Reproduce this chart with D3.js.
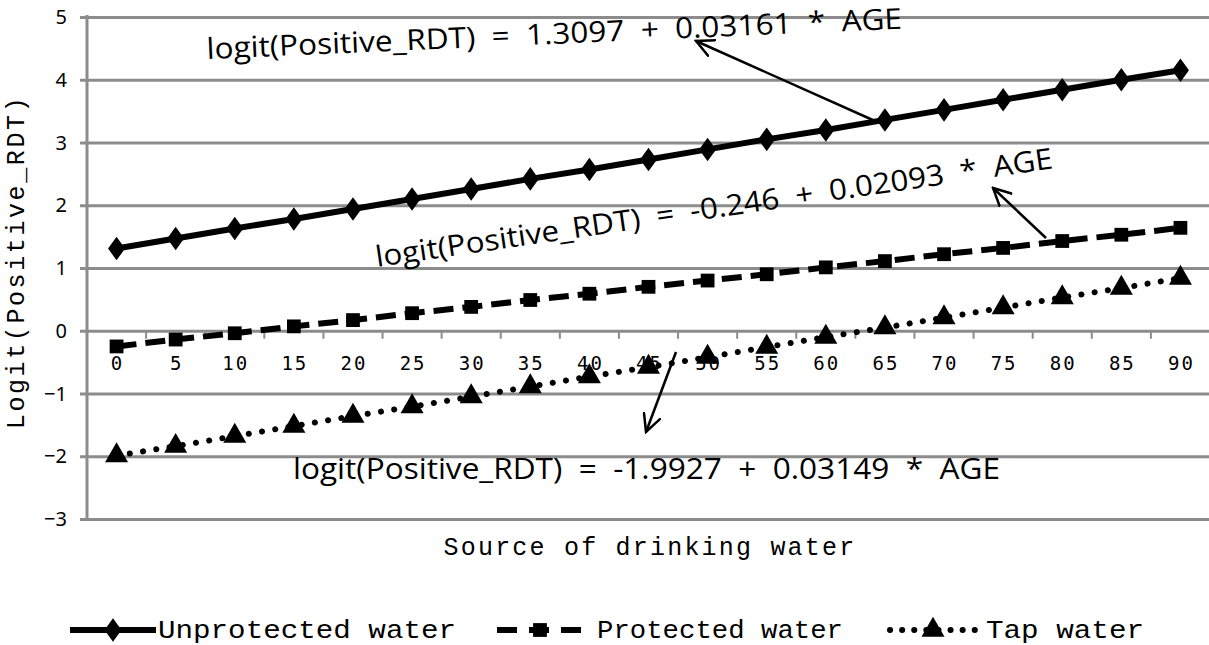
<html>
<head>
<meta charset="utf-8">
<script src="https://d3js.org/d3.v7.min.js"></script>
<style>
  body { margin: 0; background: #fff; }
</style>
</head>
<body>
<svg height="645" width="1209" id="graph1"></svg>
<script>

// Ages on the category axis
var ages = [0, 5, 10, 15, 20, 25, 30, 35, 40, 45, 50, 55, 60, 65, 70, 75, 80, 85, 90];

// Logit values, one array per water source
var unprotected = [1.31, 1.47, 1.63, 1.78, 1.94, 2.10, 2.26, 2.42, 2.57, 2.73, 2.89, 3.05, 3.20, 3.36, 3.52, 3.68, 3.84, 4.00, 4.15];
var protectedW  = [-0.25, -0.14, -0.04, 0.07, 0.17, 0.28, 0.38, 0.49, 0.59, 0.70, 0.80, 0.90, 1.01, 1.11, 1.22, 1.32, 1.43, 1.53, 1.64];
var tap         = [-1.99, -1.84, -1.68, -1.52, -1.36, -1.21, -1.05, -0.89, -0.73, -0.58, -0.42, -0.26, -0.10, 0.05, 0.21, 0.37, 0.53, 0.68, 0.84];

var yTicks = [-3, -2, -1, 0, 1, 2, 3, 4, 5];
var seriesNames = ["Unprotected water", "Protected water", "Tap water"];

// Fitted equations written on the chart
var equations = [
  "logit(Positive_RDT)  =  1.3097  +  0.03161  *  AGE",
  "logit(Positive_RDT)  =  -0.246  +  0.02093  *  AGE",
  "logit(Positive_RDT)  =  -1.9927  +  0.03149  *  AGE"
];

var svg = d3.select("#graph1");

// plot box (note: "top" is reserved on window, so use other names)
var plotL = 87, plotR = 1210, plotT = 17, plotB = 519;

var x = d3.scalePoint()
  .domain(ages)
  .range([plotL, plotR])
  .padding(0.5);

var y = d3.scaleLinear()
  .domain([-3, 5])
  .range([plotB, plotT]);

var grey = "#8c8c8c";

// horizontal gridlines, with the little tick stubs on the left
svg.append("g")
  .attr("transform", "translate(" + plotL + ",0)")
  .call(d3.axisLeft(y).tickValues(yTicks).tickSize(-(1209 - plotL)).tickFormat(""))
  .call(function(g) {
    g.select(".domain").remove();
    g.selectAll(".tick line").attr("stroke", grey).attr("stroke-width", 3).attr("x1", -7);
  });

// y tick labels
svg.append("g")
  .selectAll("text")
  .data(yTicks)
  .enter().append("text")
  .attr("x", 67)
  .attr("y", function(d) { return y(d) + 7; })
  .attr("text-anchor", "end")
  .style("font-family", "Noto Sans, sans-serif")
  .style("font-size", "20px")
  .text(function(d) { return d < 0 ? "\u2212" + Math.abs(d) : d; });

// vertical axis line
svg.append("line")
  .attr("x1", plotL).attr("x2", plotL)
  .attr("y1", plotT - 2).attr("y2", plotB + 1)
  .attr("stroke", grey).attr("stroke-width", 3);

// x axis sits on the zero line; ticks at category boundaries
var step = x.step();
var bounds = d3.range(ages.length + 1).map(function(i) { return plotL + i * step; });
svg.append("g")
  .selectAll("line")
  .data(bounds)
  .enter().append("line")
  .attr("x1", function(d) { return d; })
  .attr("x2", function(d) { return d; })
  .attr("y1", y(0))
  .attr("y2", y(0) + 8)
  .attr("stroke", grey)
  .attr("stroke-width", 2);

svg.append("g")
  .selectAll("text")
  .data(ages)
  .enter().append("text")
  .attr("x", function(d) { return x(d) + 1; })
  .attr("y", y(0) + 39)
  .attr("text-anchor", "middle")
  .style("font-family", "DejaVu Sans Mono, monospace")
  .style("font-size", "19px")
  .style("letter-spacing", "2px")
  .text(function(d) { return d; });

// axis titles
svg.append("text")
  .attr("x", 650)
  .attr("y", 555)
  .attr("text-anchor", "middle")
  .style("font-family", "Liberation Mono, monospace")
  .style("font-size", "25px")
  .style("letter-spacing", "2.2px")
  .text("Source of drinking water");

svg.append("text")
  .attr("transform", "translate(24,262) rotate(-90)")
  .attr("text-anchor", "middle")
  .style("font-family", "Liberation Mono, monospace")
  .style("font-size", "25px")
  .style("letter-spacing", "2.6px")
  .text("Logit(Positive_RDT)");

// series lines and markers
var line = d3.line()
  .x(function(d, i) { return x(ages[i]); })
  .y(function(d) { return y(d); });

var styles = [
  { data: unprotected, dash: null, cap: "butt", symbol: d3.symbolDiamond, size: 160 },
  { data: protectedW, dash: "20,9", cap: "butt", symbol: d3.symbolSquare, size: 190 },
  { data: tap, dash: "0.1,13.3", cap: "round", symbol: d3.symbolTriangle, size: 230 }
];

styles.forEach(function(s) {
  svg.append("path")
    .attr("d", line(s.data))
    .attr("fill", "none")
    .attr("stroke", "#000")
    .attr("stroke-width", 6)
    .attr("stroke-linecap", s.cap)
    .attr("stroke-dasharray", s.dash);

  svg.append("g")
    .selectAll("path")
    .data(s.data)
    .enter().append("path")
    .attr("d", d3.symbol().type(s.symbol).size(s.size))
    .attr("transform", function(d, i) {
      var sy = s.symbol === d3.symbolDiamond ? " scale(1.25,1)" : "";
      return "translate(" + x(ages[i]) + "," + y(d) + ")" + sy;
    })
    .attr("fill", "#000");
});

// equation labels
var eqFont = "Open Sans, sans-serif";
var eqPos = [
  { x: 207, y: 59, rot: -2.5 },
  { x: 377, y: 267, rot: -8.3 },
  { x: 293, y: 479, rot: 0 }
];
svg.append("g")
  .selectAll("text")
  .data(equations)
  .enter().append("text")
  .attr("transform", function(d, i) {
    return "translate(" + eqPos[i].x + "," + eqPos[i].y + ") rotate(" + eqPos[i].rot + ")";
  })
  .style("font-family", eqFont)
  .style("font-size", "29px")
  .style("white-space", "pre")
  .attr("textLength", function(d, i) { return [696, 684, 707][i]; })
  .attr("lengthAdjust", "spacingAndGlyphs")
  .text(function(d) { return d; });

// arrows from the lines to the labels
var defs = svg.append("defs");
defs.append("marker")
  .attr("id", "arrow")
  .attr("viewBox", "0 0 20 20")
  .attr("refX", 18).attr("refY", 10)
  .attr("markerWidth", 20).attr("markerHeight", 20)
  .attr("markerUnits", "userSpaceOnUse")
  .attr("orient", "auto")
  .append("path")
  .attr("d", "M 0 1 L 18 10 L 0 19")
  .attr("fill", "none")
  .attr("stroke", "#000")
  .attr("stroke-width", 2.5);

var arrows = [
  [[875, 121], [696, 41]],
  [[1046, 238], [993, 188]],
  [[676, 352], [646, 432]]
];
arrows.forEach(function(a) {
  svg.append("line")
    .attr("x1", a[0][0]).attr("y1", a[0][1])
    .attr("x2", a[1][0]).attr("y2", a[1][1])
    .attr("stroke", "#000")
    .attr("stroke-width", 2.5)
    .attr("marker-end", "url(#arrow)");
});

// legend
var legendX = [70, 497, 890];
var lg = svg.append("g");
styles.forEach(function(s, i) {
  var x0 = legendX[i];
  lg.append("line")
    .attr("x1", x0).attr("x2", x0 + 86)
    .attr("y1", 630).attr("y2", 630)
    .attr("stroke", "#000")
    .attr("stroke-width", 6)
    .attr("stroke-linecap", s.cap)
    .attr("stroke-dasharray", i === 0 ? null : (i === 1 ? "20,12" : "0.1,12"));
  lg.append("path")
    .attr("d", d3.symbol().type(s.symbol).size(s.size))
    .attr("transform", "translate(" + (x0 + 43) + ",630)" + (i === 0 ? " scale(1.25,1)" : ""))
    .attr("fill", "#000");
  lg.append("text")
    .attr("x", x0 + [88, 100, 96][i])
    .attr("y", 638)
    .style("font-family", "Liberation Mono, monospace")
    .style("font-size", "25px")
    .attr("textLength", [298, 246, 158][i])
    .attr("lengthAdjust", "spacingAndGlyphs")
    .text(seriesNames[i]);
});

</script>
</body>
</html>
